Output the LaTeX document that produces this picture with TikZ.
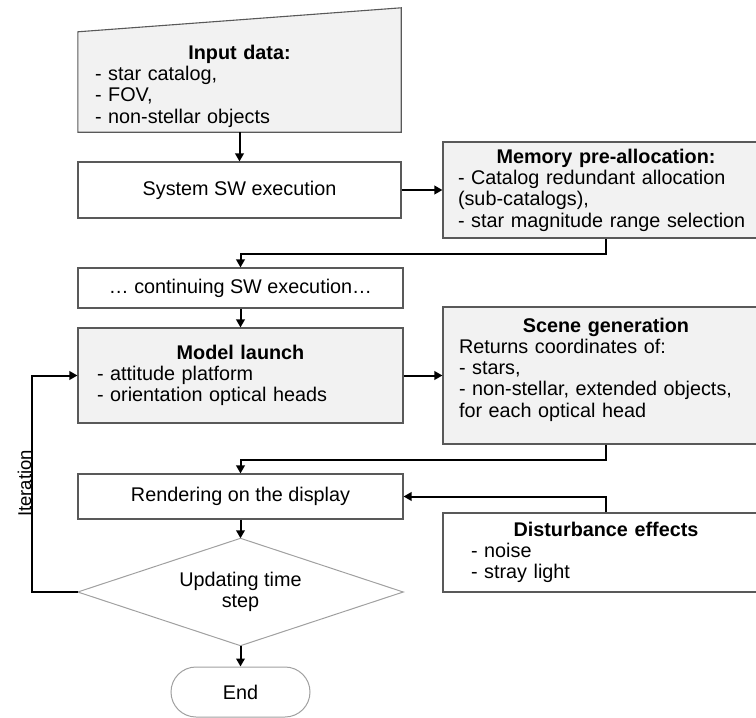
\documentclass[tikz,border=0pt]{standalone}
\usepackage{fontspec}
\setmainfont{Liberation Sans}
\usetikzlibrary{arrows.meta,backgrounds,calc}
\definecolor{boxgray}{HTML}{F2F2F2}
\definecolor{edgegray}{HTML}{595959}
\definecolor{lightedge}{HTML}{A0A0A0}
\newcommand{\ttl}[1]{\makebox[\linewidth][c]{\textbf{#1}}}
\tikzset{
  fontmain/.style={font=\fontsize{19.8}{21.3}\selectfont},
  box/.style={draw=edgegray, line width=1.1pt, rectangle, inner ysep=0pt, fontmain},
  graybox/.style={box, fill=boxgray},
  listbox/.style={align=left},
  conn/.style={line width=2pt, -{Triangle[length=8pt,width=8.5pt]}},
  lightshape/.style={draw=lightedge, line width=1pt},
}
\begin{document}
\begin{tikzpicture}[x=1pt,y=-1pt]
\useasboundingbox (0,0) rectangle (756,718);
\clip (0,0) rectangle (756,718);

% input data (manual input shape)
\node[rectangle, minimum width=323pt, minimum height=100pt, inner xsep=17pt, inner ysep=0pt,
      text width=289pt, listbox, fontmain] (inp) at (239.5,82)
  {\rule{0pt}{22.5pt}\ttl{Input data:}\\- star catalog,\\- FOV,\\- non-stellar objects};
\begin{scope}[on background layer]
\filldraw[fill=boxgray, draw=edgegray, line width=1.1pt]
  (inp.south west) -- (inp.south east) -- ($(inp.north east)+(0,-24)$) -- (inp.north west) -- cycle;
\end{scope}

\node[box, minimum width=323pt, minimum height=56pt] (sys) at (239.5,190) {System SW execution};

\node[graybox, listbox, minimum width=326pt, minimum height=96pt, inner xsep=15pt, text width=296pt] (mem) at (606,190)
  {\ttl{Memory pre-allocation:}\\- Catalog redundant allocation\\(sub-catalogs),\\- star magnitude range selection};

\node[box, minimum width=325pt, minimum height=40pt] (cont) at (240.5,288) {… continuing SW execution…};

\node[graybox, listbox, minimum width=325pt, minimum height=95pt, inner xsep=19pt, text width=287pt] (model) at (240.5,375.5)
  {\ttl{Model launch}\\- attitude platform\\- orientation optical heads};

\node[graybox, listbox, minimum width=326pt, minimum height=137pt, inner xsep=16pt, text width=294pt] (scene) at (606,375.5)
  {\ttl{Scene generation}\\Returns coordinates of:\\- stars,\\- non-stellar, extended objects,\\for each optical head\rule[-16pt]{0pt}{16pt}};

\node[box, minimum width=325pt, minimum height=45pt] (render) at (240.5,496.5) {Rendering on the display};

\node[box, listbox, minimum width=326pt, minimum height=79pt, inner xsep=28pt, text width=270pt] (dist) at (606,552.5)
  {\ttl{Disturbance effects}\\- noise\\- stray light};

% decision
\node[rectangle, minimum width=325pt, minimum height=107pt, inner sep=0pt, align=center, fontmain] (dia) at (240.5,592)
  {Updating time\\step};
\draw[lightshape] (dia.north) -- (dia.east) -- (dia.south) -- (dia.west) -- cycle;

% terminal
\node[lightshape, rectangle, rounded corners=25pt, minimum width=139pt, minimum height=50pt, fontmain] (end) at (240.5,692) {End};

% iteration label
\node[rotate=90, inner sep=0pt, font=\fontsize{18.5}{20}\selectfont] (iter) at (24.5,483.5) {Iteration};

% connectors
\draw[conn] (inp.south) -- (sys.north);
\draw[conn] (sys.east) -- (mem.west);
\draw[conn] (mem.south) -- ++(0,15) -| (cont.north);
\draw[conn] (cont.south) -- (model.north);
\draw[conn] (model.east) -- (scene.west);
\draw[conn] (scene.south) -- ++(0,15) -| (render.north);
\draw[conn] (dist.north) |- (render.east);
\draw[conn] (render.south) -- (dia.north);
\draw[conn] (dia.west) -- ++(-45.5,0) |- (model.west);
\draw[conn] (dia.south) -- (end.north);
\end{tikzpicture}
\end{document}
